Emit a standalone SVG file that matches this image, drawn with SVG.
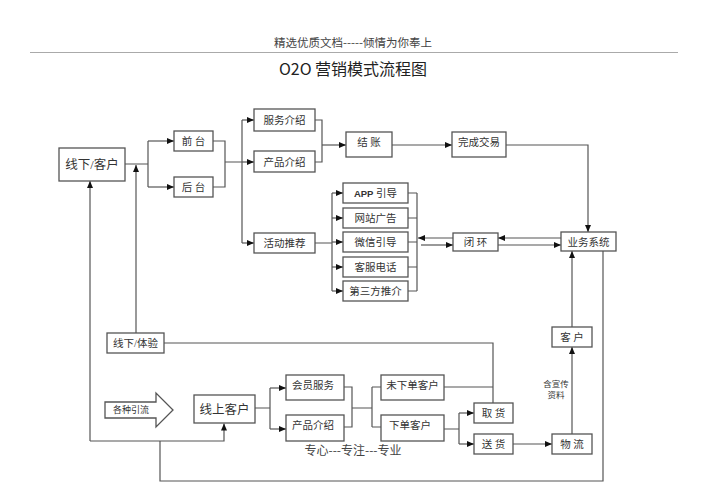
<svg xmlns="http://www.w3.org/2000/svg" width="707" height="500" viewBox="0 0 707 500">
<defs>
<style>
.box{fill:#fff;stroke:#555;stroke-width:1.3}
.t{font-family:"Liberation Serif","Noto Sans CJK SC",serif;font-size:10.5px;fill:#333;text-anchor:middle}
.c{fill:none;stroke:#555;stroke-width:1.2}
.a{marker-end:url(#ah)}
</style>
<marker id="ah" markerWidth="7" markerHeight="6" refX="7" refY="3" orient="auto" markerUnits="userSpaceOnUse">
<path d="M0,0 L7,3 L0,6 Z" fill="#111"/>
</marker>
</defs>
<rect width="707" height="500" fill="#fff"/>
<text x="353" y="47" style="font-family:'Noto Sans CJK SC',sans-serif;font-size:11.5px;fill:#444;text-anchor:middle">精选优质文档-----倾情为你奉上</text>
<line x1="30" y1="52.5" x2="678" y2="52.5" stroke="#aaa" stroke-width="1"/>
<text x="353" y="75" style="font-family:'Noto Sans CJK SC',sans-serif;font-size:16px;fill:#222;text-anchor:middle">O2O 营销模式流程图</text>

<g id="connectors">
<path class="c" d="M125,164 H148 M148,141 V187"/>
<path class="c a" d="M148,141 H174"/>
<path class="c a" d="M148,187 H174"/>
<path class="c a" d="M136,333 V165"/>
<path class="c" d="M213,141 H225 V187 H213 M225,162 H242 M242,120 V243"/>
<path class="c a" d="M242,120 H254"/>
<path class="c a" d="M242,162 H254"/>
<path class="c a" d="M242,243 H254"/>
<path class="c" d="M315,120 H322 V162 H315"/>
<path class="c a" d="M322,145 H346"/>
<path class="c a" d="M392,145 H452"/>
<path class="c a" d="M506,145 H588 V232"/>
<path class="c a" d="M561,238 H498"/>
<path class="c a" d="M498,245 H561"/>
<path class="c a" d="M453,238 H418"/>
<path class="c a" d="M421,245 H453"/>
<path class="c" d="M315,243 H332 M332,193 V291"/>
<path class="c a" d="M332,193 H343"/>
<path class="c a" d="M332,218 H343"/>
<path class="c a" d="M332,242 H343"/>
<path class="c a" d="M332,267 H343"/>
<path class="c a" d="M332,291 H343"/>
<path class="c" d="M408,193 H417 M408,218 H417 M408,242 H417 M408,267 H417 M408,291 H417 M417,193 V291"/>
<path class="c a" d="M572,327 V251"/>
<path class="c a" d="M572,434 V347"/>
<path class="c a" d="M513,444 H552"/>
<path class="c" d="M444,429 H459 M459,413 V444"/>
<path class="c a" d="M459,413 H474"/>
<path class="c a" d="M459,444 H474"/>
<path class="c" d="M255,408 H270 M270,388 V429"/>
<path class="c a" d="M270,388 H286"/>
<path class="c a" d="M270,429 H286"/>
<path class="c" d="M344,387 H352 V427 H344 M352,408 H372 M372,387 V427 M372,387 H381 M372,427 H381"/>
<path class="c" d="M444,387 H493 M164,343 H493 V403"/>
<path class="c" d="M603,251 V481 H160 V441"/>
<path class="c a" d="M90,441 H224 V423.5"/>
<path class="c a" d="M90,441 V181"/>
</g>

<g id="n-offline-customer"><rect class="box" x="59" y="148" width="66" height="33"/><text class="t" x="92" y="169" style="font-size:12.5px">线下/客户</text></g>
<g id="n-front"><rect class="box" x="174" y="131" width="39" height="20"/><text class="t" x="193.5" y="145">前  台</text></g>
<g id="n-back"><rect class="box" x="174" y="177" width="39" height="20"/><text class="t" x="193.5" y="191">后  台</text></g>
<g id="n-service"><rect class="box" x="254" y="109" width="61" height="22"/><text class="t" x="284.5" y="124">服务介绍</text></g>
<g id="n-product"><rect class="box" x="254" y="151" width="61" height="21"/><text class="t" x="284.5" y="166">产品介绍</text></g>
<g id="n-activity"><rect class="box" x="254" y="233" width="61" height="20"/><text class="t" x="284.5" y="247">活动推荐</text></g>
<g id="n-checkout"><rect class="box" x="346" y="132" width="46" height="25"/><text class="t" x="369" y="146">结  账</text></g>
<g id="n-deal"><rect class="box" x="452" y="132" width="54" height="25"/><text class="t" x="479" y="146">完成交易</text></g>
<g id="n-app"><rect class="box" x="343" y="183" width="65" height="20"/><text class="t" x="375.5" y="197"><tspan style="font-family:'Liberation Sans',sans-serif;font-weight:bold;font-size:9.5px">APP</tspan> 引导</text></g>
<g id="n-web"><rect class="box" x="343" y="208" width="65" height="20"/><text class="t" x="375.5" y="222">网站广告</text></g>
<g id="n-wechat"><rect class="box" x="343" y="232" width="65" height="20"/><text class="t" x="375.5" y="246">微信引导</text></g>
<g id="n-phone"><rect class="box" x="343" y="257" width="65" height="20"/><text class="t" x="375.5" y="271">客服电话</text></g>
<g id="n-third"><rect class="box" x="343" y="281" width="65" height="20"/><text class="t" x="375.5" y="295">第三方推介</text></g>
<g id="n-loop"><rect class="box" x="453" y="233" width="45" height="18"/><text class="t" x="475.5" y="246">闭  环</text></g>
<g id="n-system"><rect class="box" x="561" y="232" width="55" height="19"/><text class="t" x="588.5" y="246">业务系统</text></g>
<g id="n-customer"><rect class="box" x="552" y="327" width="40" height="20"/><text class="t" x="572" y="341">客  户</text></g>
<g id="n-experience"><rect class="box" x="107" y="333" width="57" height="20"/><text class="t" x="135.5" y="347">线下/体验</text></g>
<g id="n-traffic"><polygon class="box" points="105,402 156,402 156,393 173,410 156,427 156,418 105,418"/><text class="t" x="131" y="413" style="font-size:9px">各种引流</text></g>
<g id="n-online"><rect class="box" x="194" y="395" width="61" height="28"/><text class="t" x="224.5" y="414" style="font-size:12.5px">线上客户</text></g>
<g id="n-member"><rect class="box" x="286" y="375" width="58" height="25"/><text class="t" x="313" y="389">会员服务</text></g>
<g id="n-product2"><rect class="box" x="286" y="415" width="58" height="26"/><text class="t" x="313" y="429">产品介绍</text></g>
<g id="n-noorder"><rect class="box" x="381" y="375" width="63" height="25"/><text class="t" x="412.5" y="389">未下单客户</text></g>
<g id="n-order"><rect class="box" x="381" y="415" width="63" height="26"/><text class="t" x="410" y="429">下单客户</text></g>
<g id="n-pickup"><rect class="box" x="474" y="403" width="39" height="20"/><text class="t" x="493.5" y="417">取  货</text></g>
<g id="n-deliver"><rect class="box" x="474" y="434" width="39" height="20"/><text class="t" x="493.5" y="448">送  货</text></g>
<g id="n-logistics"><rect class="box" x="552" y="434" width="40" height="20"/><text class="t" x="572" y="448">物  流</text></g>
<text class="t" x="556" y="387" style="font-size:8.5px">含宣传</text>
<text class="t" x="556" y="398" style="font-size:8.5px">资料</text>
<text x="353" y="455" style="font-family:'Noto Sans CJK SC',sans-serif;font-size:12px;fill:#444;text-anchor:middle">专心---专注---专业</text>
</svg>
